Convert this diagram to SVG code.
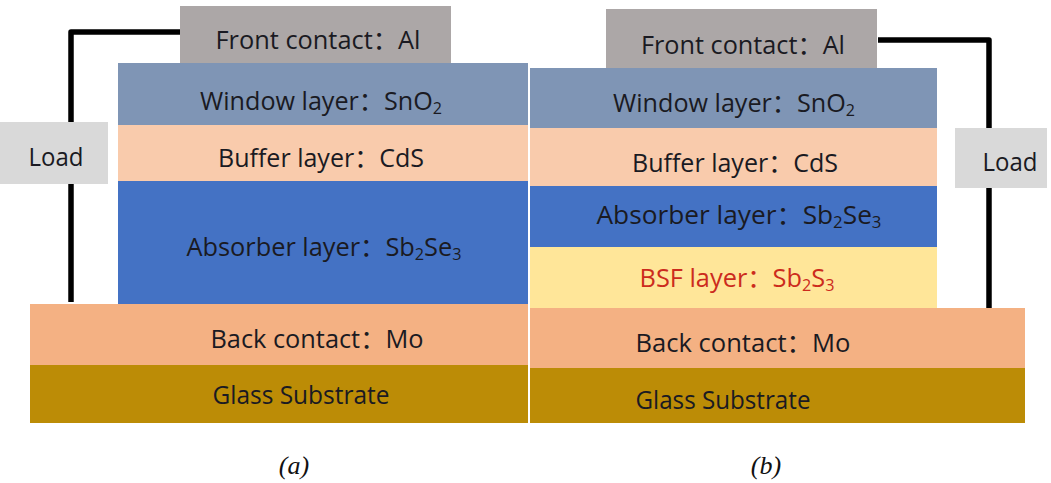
<svg xmlns="http://www.w3.org/2000/svg" width="1051" height="483" viewBox="0 0 1051 483">
<style>
.t{font-family:"Open Sans","Noto Sans CJK SC",sans-serif;font-size:25px;fill:#1a1a22;text-anchor:middle}
.red{fill:#cc2b1d}
.sub{font-size:16px}
.cap{font-family:"Liberation Serif",serif;font-style:italic;font-size:26px;fill:#111;text-anchor:middle}
.w{fill:none;stroke:#000;stroke-width:5.5;stroke-linejoin:round}
</style>
<rect width="1051" height="483" fill="#fff"/>
<g id="connectors">
<path class="w" d="M181,32 H71 V122"/>
<path class="w" d="M71,184 V302"/>
<path class="w" d="M878,40 H989 V128"/>
<path class="w" d="M989,188 V308"/>
</g>
<g id="a-front"><rect x="180" y="6" width="271" height="58" fill="#aca7a7"/><text class="t" x="318" y="49" textLength="205" lengthAdjust="spacingAndGlyphs">Front contact：Al</text></g>
<g id="a-window"><rect x="118" y="63" width="410" height="62" fill="#7f95b5"/><text class="t" x="321" y="110" textLength="242" lengthAdjust="spacingAndGlyphs">Window layer：SnO<tspan class="sub" dy="4">2</tspan></text></g>
<g id="a-buffer"><rect x="118" y="125" width="410" height="56" fill="#f9cbac"/><text class="t" x="321" y="167" textLength="206" lengthAdjust="spacingAndGlyphs">Buffer layer：CdS</text></g>
<g id="a-absorber"><rect x="118" y="181" width="410" height="123" fill="#4472c4"/><text class="t" x="324" y="256" textLength="275" lengthAdjust="spacingAndGlyphs">Absorber layer：Sb<tspan class="sub" dy="4">2</tspan><tspan dy="-4">Se</tspan><tspan class="sub" dy="4">3</tspan></text></g>
<g id="a-back"><rect x="30" y="304" width="498" height="61" fill="#f4b183"/><text class="t" x="317" y="348" textLength="213" lengthAdjust="spacingAndGlyphs">Back contact：Mo</text></g>
<g id="a-glass"><rect x="30" y="365" width="498" height="58" fill="#bc8c06"/><text class="t" x="301" y="404" textLength="177" lengthAdjust="spacingAndGlyphs">Glass Substrate</text></g>
<g id="a-load"><rect x="0" y="122" width="108" height="62" fill="#d9d9d9"/><text class="t" x="56" y="166" textLength="55" lengthAdjust="spacingAndGlyphs">Load</text></g>
<g id="b-front"><rect x="606" y="9" width="271" height="59" fill="#aca7a7"/><text class="t" x="743" y="54" textLength="204" lengthAdjust="spacingAndGlyphs">Front contact：Al</text></g>
<g id="b-window"><rect x="530" y="68" width="407" height="60" fill="#7f95b5"/><text class="t" x="734" y="112" textLength="242" lengthAdjust="spacingAndGlyphs">Window layer：SnO<tspan class="sub" dy="4">2</tspan></text></g>
<g id="b-buffer"><rect x="530" y="128" width="407" height="58" fill="#f9cbac"/><text class="t" x="735" y="172" textLength="206" lengthAdjust="spacingAndGlyphs">Buffer layer：CdS</text></g>
<g id="b-absorber"><rect x="530" y="186" width="407" height="61" fill="#4472c4"/><text class="t" x="739" y="224" textLength="285" lengthAdjust="spacingAndGlyphs">Absorber layer：Sb<tspan class="sub" dy="4">2</tspan><tspan dy="-4">Se</tspan><tspan class="sub" dy="4">3</tspan></text></g>
<g id="b-bsf"><rect x="530" y="247" width="407" height="61" fill="#ffe699"/><text class="t red" x="737" y="287" textLength="195" lengthAdjust="spacingAndGlyphs">BSF layer：Sb<tspan class="sub" dy="4">2</tspan><tspan dy="-4">S</tspan><tspan class="sub" dy="4">3</tspan></text></g>
<g id="b-back"><rect x="530" y="308" width="495" height="60" fill="#f4b183"/><text class="t" x="743" y="352" textLength="215" lengthAdjust="spacingAndGlyphs">Back contact：Mo</text></g>
<g id="b-glass"><rect x="530" y="368" width="495" height="55" fill="#bc8c06"/><text class="t" x="723" y="409" textLength="175" lengthAdjust="spacingAndGlyphs">Glass Substrate</text></g>
<g id="b-load"><rect x="955" y="128" width="92" height="60" fill="#d9d9d9"/><text class="t" x="1010" y="171" textLength="55" lengthAdjust="spacingAndGlyphs">Load</text></g>
<text class="cap" x="294" y="474">(a)</text>
<text class="cap" x="766" y="474">(b)</text>
</svg>
